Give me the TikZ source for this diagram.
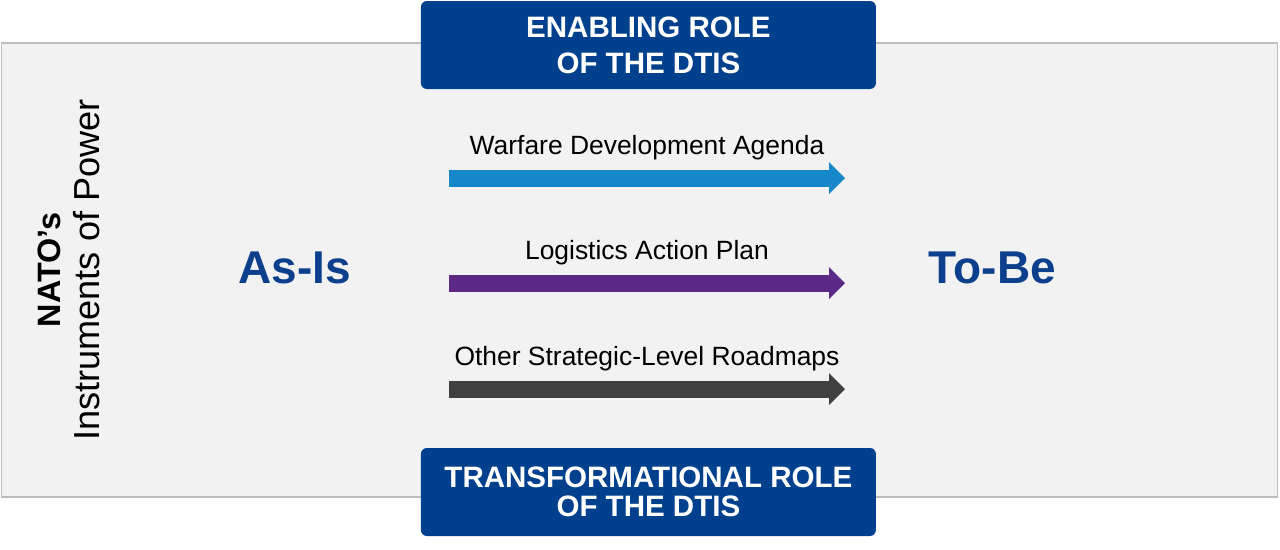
\documentclass[tikz,border=0pt]{standalone}
\usepackage{fontspec}
\setmainfont{Liberation Sans}
\usetikzlibrary{arrows.meta}

\definecolor{rolebox}{RGB}{0,64,140}
\definecolor{stateblue}{RGB}{12,64,140}
\definecolor{panelgray}{RGB}{242,242,242}
\definecolor{panelline}{RGB}{190,190,190}
\definecolor{wdablue}{RGB}{22,136,202}
\definecolor{lappurple}{RGB}{92,42,134}
\definecolor{roadgray}{RGB}{64,64,64}

\begin{document}
\begin{tikzpicture}[
  role/.style={fill=rolebox, rounded corners=0.15cm, minimum width=11.375cm, minimum height=2.2cm,
    text=white, align=center, font=\bfseries\fontsize{21}{25.6}\selectfont},
  state/.style={anchor=base, text=stateblue, font=\bfseries\fontsize{32.7}{39}\selectfont},
  roadmap/.style={line width=0.425cm, -{Triangle[width=0.8cm,length=0.4cm,line width=0pt]}},
  lbl/.style={anchor=base, font=\fontsize{18.8}{22}\selectfont}
]

\useasboundingbox (0,0) rectangle (32,-13.725);

% background panel
\node[draw=panelline, line width=1.2pt, fill=panelgray, minimum width=31.9cm, minimum height=11.35cm, inner sep=0] (panel) at (15.99,-6.75) {};

% roles of the DTIS
\node[role] (enabling) at (16.21,-1.125) {ENABLING ROLE\\OF THE DTIS};
\node[role, font=\bfseries\fontsize{21}{21}\selectfont] (transf) at (16.21,-12.3) {TRANSFORMATIONAL ROLE\\OF THE DTIS};

% states
\node[state] (asis) at (7.375,-7.075) {As-Is};
\node[state] (tobe) at (24.81,-7.075) {To-Be};

% left title
\node[rotate=90, align=center, font=\fontsize{23}{27.7}\selectfont] (iop) at (1.72,-6.75)
  {\textbf{NATO’s}\\{\fontsize{25.7}{27.7}\selectfont Instruments of Power}};

% roadmaps
\foreach \y/\c/\txt [count=\i] in {4.45/wdablue/Warfare Development Agenda, 7.075/lappurple/Logistics Action Plan, 9.725/roadgray/Other Strategic-Level Roadmaps} {
  \coordinate (r\i-in) at (11.225,-\y);
  \coordinate (r\i-out) at (21.125,-\y);
  \draw[roadmap, \c] (r\i-in) -- (r\i-out);
  \node[lbl] (lab\i) at (16.175,-\y+0.59) {\txt};
}

\end{tikzpicture}
\end{document}
